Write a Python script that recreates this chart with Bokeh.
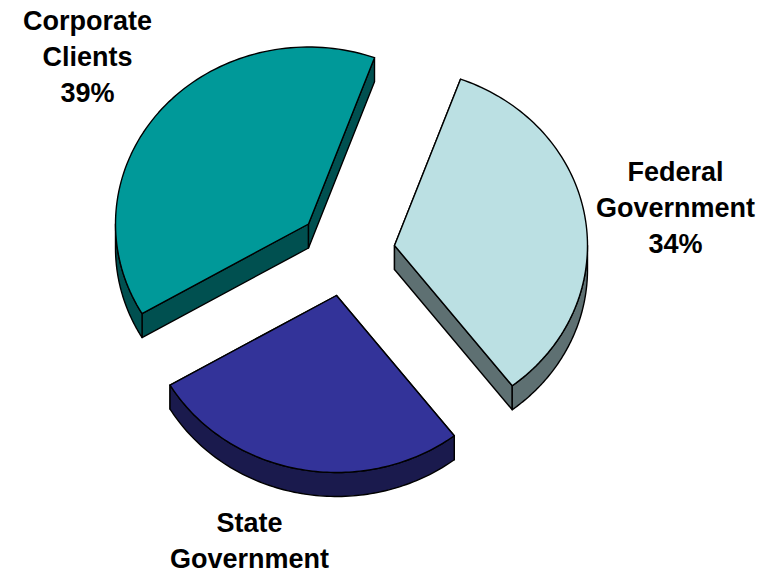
import numpy as np
from bokeh.core.properties import value
from bokeh.embed import file_html
from bokeh.models import ColumnDataSource, Range1d
from bokeh.plotting import figure
from bokeh.resources import INLINE

# Revenue share by client group, clockwise from the first cut
categories = ["Federal Government", "State Government", "Corporate Clients"]
shares = [34, 27, 39]
label_lines = [["Federal", "Government", "34%"], ["State", "Government"], ["Corporate", "Clients", "39%"]]

top_colors = ["#BBE0E3", "#333399", "#009999"]
side_colors = ["#5E7072", "#1A1A4D", "#005050"]

WIDTH, HEIGHT = 759, 573
START_DEG = 20.0      # first cut, measured clockwise from straight up
RX, RY = 193.0, 177.0 # ellipse radii of the tilted pie
DEPTH = 24.0          # thickness of the extruded slices
TIPS = [(394.0, 245.0), (336.0, 295.0), (308.0, 223.5)]  # exploded slice tips
LABEL_X = [675, 249, 87]
LABEL_TOP = [171, 522.5, 20.5]
LINE_STEP = 36
FONT_SIZE = "27px"


def rim(tip, a0, a1, n=90):
    """Points on the slice's elliptical rim between two clockwise angles."""
    t = np.radians(np.linspace(a0, a1, n))
    return tip[0] + RX * np.sin(t), tip[1] - RY * np.cos(t)


p = figure(
    width=WIDTH, height=HEIGHT, output_backend="svg", toolbar_location=None,
    x_range=Range1d(0, WIDTH), y_range=Range1d(HEIGHT, 0),
    min_border=0, outline_line_color=None,
)
p.axis.visible = False
p.grid.visible = False

stroke = dict(line_color="black", line_width=1.4, line_join="round")
angle = START_DEG
for tip, share, top, side in zip(TIPS, shares, top_colors, side_colors):
    a0, a1 = angle, angle + share * 3.6
    angle = a1
    ax, ay = rim(tip, a0, a1)

    # Cut faces running from the tip to each end of the rim
    for ex, ey in ((ax[0], ay[0]), (ax[-1], ay[-1])):
        p.patch(
            [tip[0], ex, ex, tip[0]],
            [tip[1], ey, ey + DEPTH, tip[1] + DEPTH],
            fill_color=side, **stroke,
        )

    # Outer wall, only where the rim faces the viewer
    lo, hi = max(a0, 90.0), min(a1, 270.0)
    if hi > lo:
        wx, wy = rim(tip, lo, hi)
        p.patch(
            np.concatenate([wx, wx[::-1]]),
            np.concatenate([wy, wy[::-1] + DEPTH]),
            fill_color=side, **stroke,
        )

    # Top face
    p.patch(np.concatenate([[tip[0]], ax]), np.concatenate([[tip[1]], ay]), fill_color=top, **stroke)

# Category labels, one centred line per row
xs, ys, texts = [], [], []
for x, y0, lines in zip(LABEL_X, LABEL_TOP, label_lines):
    for i, line in enumerate(lines):
        xs.append(x)
        ys.append(y0 + i * LINE_STEP)
        texts.append(line)
p.text(
    x="x", y="y", text="text", source=ColumnDataSource(dict(x=xs, y=ys, text=texts)),
    text_font=value("Liberation Sans"), text_font_style="bold", text_font_size=FONT_SIZE,
    text_color="black", text_align="center", text_baseline="middle",
)

open("out.html", "w").write(file_html(p, INLINE))
